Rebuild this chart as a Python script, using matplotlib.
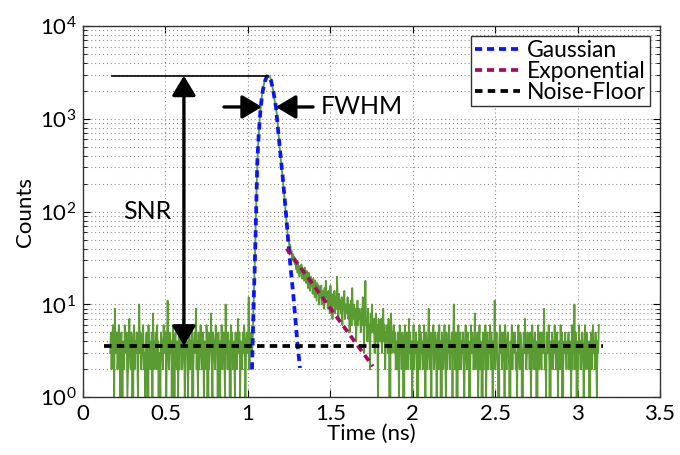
import numpy as np
import matplotlib
matplotlib.use('Agg')
import matplotlib.pyplot as plt
from matplotlib.ticker import LogLocator, NullFormatter

plt.rcParams['font.family'] = ['Lato', 'DejaVu Sans']
plt.rcParams['mathtext.default'] = 'regular'

# ---------------- data ----------------
t_start = 0.165      # ns, first histogram bin
bin_width = 0.004    # ns

noise_pre = [
    3, 5, 2, 4, 6, 3, 1, 9, 4, 3, 5, 2, 3, 6, 4, 1, 3, 5, 0, 4,
    3, 2, 6, 4, 3, 5, 1, 2, 4, 7, 3, 2, 5, 4, 0, 3, 6, 2, 4, 3,
    5, 3, 1, 4, 10, 3, 5, 2, 3, 4, 6, 2, 3, 1, 4, 5, 3, 0, 6, 3,
    4, 2, 3, 5, 1, 8, 2, 4, 3, 5, 2, 6, 3, 4, 0, 3, 1, 5, 4, 3,
    2, 6, 3, 4, 5, 1, 3, 11, 4, 2, 3, 5, 3, 4, 0, 6, 3, 0, 4, 5,
    3, 2, 4, 1, 6, 2, 5, 3, 4, 2, 3, 7, 4, 1, 2, 5, 3, 4, 1, 3,
    5, 2, 4, 3, 6, 0, 2, 4, 5, 3, 9, 2, 4, 1, 5, 2, 3, 6, 4, 2,
    3, 5, 1, 4, 3, 2, 6, 4, 0, 5, 2, 3, 4, 8, 3, 1, 5, 4, 3, 2,
    6, 3, 4, 1, 5, 3, 0, 4, 3, 6, 2, 4, 5, 3, 1, 10, 3, 4, 2, 5,
    3, 4, 0, 6, 3, 5, 2, 3, 4, 1, 5, 3, 2, 4, 7, 3, 5, 1, 4, 3,
    2, 5, 3, 6, 4, 1, 3, 5, 4, 3, 12, 2, 4, 3, 5,
]

rise_peak = [
    3, 4, 8, 14, 24, 45, 95, 170, 330, 480,
    650, 840, 1050, 1300, 1530, 1760, 1980, 2180, 2360, 2510,
    2640, 2740, 2820, 2880, 2910, 2920, 2900, 2840, 2750, 2620,
    2450, 2250, 2040, 1830, 1640, 1480, 1370, 1220, 1050, 880,
    720, 590, 490, 410, 345, 290, 250, 210, 175, 145,
    120, 100, 80, 66,
]

tail = [
    58, 50, 47, 41, 44, 36, 38, 31, 35, 29,
    33, 27, 30, 24, 29, 22, 27, 25, 20, 26,
    22, 27, 19, 24, 21, 18, 25, 20, 17, 23,
    19, 15, 22, 17, 14, 20, 16, 18, 13, 19,
    15, 12, 18, 14, 11, 17, 13, 16, 10, 15,
    12, 16, 10, 14, 12, 9, 15, 11, 18, 12,
    13, 9, 14, 11, 8, 16, 10, 13, 7, 12,
    10, 14, 8, 12, 9, 20, 11, 7, 13, 9,
    11, 8, 12, 6, 10, 9, 14, 7, 10, 8,
    9, 12, 7, 10, 5, 9, 11, 6, 15, 8,
    7, 10, 6, 9, 4, 8, 11, 6, 9, 7,
    8, 5, 9, 6, 12, 7, 3, 8, 18, 6,
    7, 4, 9, 5, 6, 2, 8, 5, 10, 6,
    5, 7, 3, 6, 8, 4, 6, 1, 7, 5,
    6, 4, 7, 3, 5, 9, 4, 6, 2, 5,
    4, 6, 3, 7, 5, 0, 4, 8, 3, 5,
    4, 6, 3, 5, 2,
]

noise_post = [
    4, 2, 5, 3, 1, 6, 3, 4, 2, 5, 3, 0, 4, 6, 2, 3, 5, 4, 2, 7,
    3, 5, 2, 4, 1, 3, 6, 2, 4, 3, 5, 2, 0, 4, 3, 6, 2, 5, 3, 4,
    2, 4, 6, 3, 1, 5, 3, 2, 4, 9, 3, 2, 5, 1, 4, 3, 6, 2, 3, 5,
    4, 1, 3, 5, 2, 6, 3, 4, 0, 5, 3, 2, 4, 6, 3, 1, 5, 2, 4, 3,
    6, 2, 4, 3, 5, 1, 3, 10, 4, 2, 5, 3, 0, 4, 6, 2, 3, 5, 2, 4,
    3, 5, 2, 1, 4, 6, 3, 2, 5, 3, 4, 0, 2, 6, 3, 5, 4, 2, 3, 8,
    2, 4, 3, 5, 1, 3, 6, 2, 4, 3, 0, 5, 2, 4, 3, 6, 1, 3, 5, 2,
    4, 3, 6, 2, 5, 3, 1, 4, 3, 11, 2, 4, 5, 3, 2, 0, 4, 6, 3, 5,
    2, 3, 5, 4, 1, 6, 3, 2, 4, 5, 3, 2, 0, 4, 3, 6, 2, 5, 3, 4,
    5, 2, 3, 1, 4, 6, 3, 2, 5, 4, 3, 0, 2, 5, 3, 7, 4, 2, 3, 5,
    3, 4, 2, 5, 1, 3, 6, 4, 2, 3, 5, 2, 4, 0, 3, 6, 2, 4, 5, 3,
    2, 5, 3, 4, 9, 2, 3, 1, 5, 4, 3, 6, 2, 0, 4, 3, 5, 2, 4, 3,
    6, 3, 2, 4, 5, 1, 3, 4, 2, 6, 3, 5, 0, 2, 4, 3, 5, 3, 2, 4,
    3, 5, 2, 4, 3, 1, 6, 2, 4, 3, 10, 2, 5, 3, 0, 4, 2, 6, 3, 4,
    2, 4, 5, 3, 1, 3, 6, 2, 4, 5, 3, 2, 4, 0, 3, 5, 2, 4, 6, 3,
    4, 2, 5, 3, 1, 4, 3, 6,
]

gauss_t = [1.025, 1.029, 1.037, 1.041, 1.047, 1.053, 1.057, 1.065, 1.078,
           1.090, 1.105, 1.115, 1.125, 1.140, 1.155, 1.170, 1.187, 1.211,
           1.231, 1.249, 1.262, 1.275, 1.288, 1.300, 1.316]
gauss_y = [2.0, 3.9, 14, 23, 60, 170, 340, 650, 1350,
           2000, 2600, 2850, 2920, 2600, 1950, 1350, 643, 238,
           96, 39, 22, 13, 7, 3.9, 2.07]

exp_t = [1.235, 1.758]
exp_y = [40, 2.16]

floor_t = [0.125, 3.155]
floor_level = 3.6

peak_t = 1.125
peak_y = 2920
fwhm_y = 1343
fwhm_left = 1.085
fwhm_right = 1.170
snr_t = 0.612

x_ticks = [0, 0.5, 1, 1.5, 2, 2.5, 3, 3.5]
x_ticklabels = ['0', '0.5', '1', '1.5', '2', '2.5', '3', '3.5']

counts = np.array(noise_pre + rise_peak + tail + noise_post, dtype=float)
time = t_start + bin_width * np.arange(len(counts))

# ---------------- plot ----------------
fig = plt.figure(figsize=(6.8, 4.55), dpi=100)
ax = fig.add_axes([0.1221, 0.1268, 0.8485, 0.816])

ax.set_yscale('log', nonpositive='clip')
ax.plot(time, counts, color='#5a9c32', lw=1.3, zorder=2)

dash = (1.9, 1.3)
ax.plot(gauss_t, gauss_y, color='#0a14ff', lw=2.7, dashes=dash,
        label='Gaussian', zorder=4)
ax.plot(exp_t, exp_y, color='#a0105e', lw=2.7, dashes=dash,
        label='Exponential', zorder=4)
ax.plot(floor_t, [floor_level, floor_level], color='black', lw=2.7,
        dashes=(2.0, 1.4), label='Noise-Floor', zorder=4)

# annotations
arrow_style = '-|>,head_length=0.5,head_width=0.3'
ax.plot([0.176, peak_t], [peak_y, peak_y], color='black', lw=1.2, zorder=5)
ax.annotate('', xy=(snr_t, peak_y), xytext=(snr_t, floor_level),
            arrowprops=dict(arrowstyle='<|-|>,head_length=0.5,head_width=0.3',
                            color='black', lw=2.4, mutation_scale=24,
                            shrinkA=0, shrinkB=0), zorder=6)
ax.text(0.39, 100, 'SNR', fontsize=18, ha='center', va='center', zorder=6)
ax.annotate('', xy=(fwhm_left, fwhm_y), xytext=(0.855, fwhm_y),
            arrowprops=dict(arrowstyle=arrow_style, color='black', lw=2.4,
                            mutation_scale=24, shrinkA=0, shrinkB=0), zorder=6)
ax.annotate('', xy=(fwhm_right, fwhm_y), xytext=(1.395, fwhm_y),
            arrowprops=dict(arrowstyle=arrow_style, color='black', lw=2.4,
                            mutation_scale=24, shrinkA=0, shrinkB=0), zorder=6)
ax.text(1.44, fwhm_y, 'FWHM', fontsize=18, ha='left', va='center', zorder=6)

ax.set_xlim(0, 3.5)
ax.set_ylim(1, 1e4)
ax.set_xticks(x_ticks)
ax.set_xticklabels(x_ticklabels)
ax.yaxis.set_major_locator(LogLocator(base=10, numticks=10))
ax.yaxis.set_minor_locator(LogLocator(base=10, subs=np.arange(2, 10), numticks=10))
ax.yaxis.set_minor_formatter(NullFormatter())

grid_style = dict(color='#8c8c8c', ls=(0, (1, 2.5)), lw=0.8)
ax.grid(True, which='major', axis='both', **grid_style)
ax.grid(True, which='minor', axis='y', **grid_style)
ax.set_axisbelow(True)

ax.tick_params(which='both', direction='in', top=True, right=True,
               labelsize=16, colors='black')
ax.tick_params(which='major', length=5, pad=5)
ax.tick_params(which='minor', length=3)
for s in ax.spines.values():
    s.set_linewidth(1.0)
    s.set_color('#333333')

ax.set_xlabel('Time (ns)', fontsize=16, labelpad=0)
ax.set_ylabel('Counts', fontsize=16, labelpad=3)

leg = ax.legend(loc='upper right', fontsize=16.5, frameon=True, fancybox=False,
                framealpha=1, edgecolor='#333333', borderpad=0.15,
                labelspacing=0.0, handlelength=2.0, handletextpad=0.3,
                borderaxespad=0.45)
leg.get_frame().set_linewidth(1.0)

fig.savefig('out.png', dpi=100)
